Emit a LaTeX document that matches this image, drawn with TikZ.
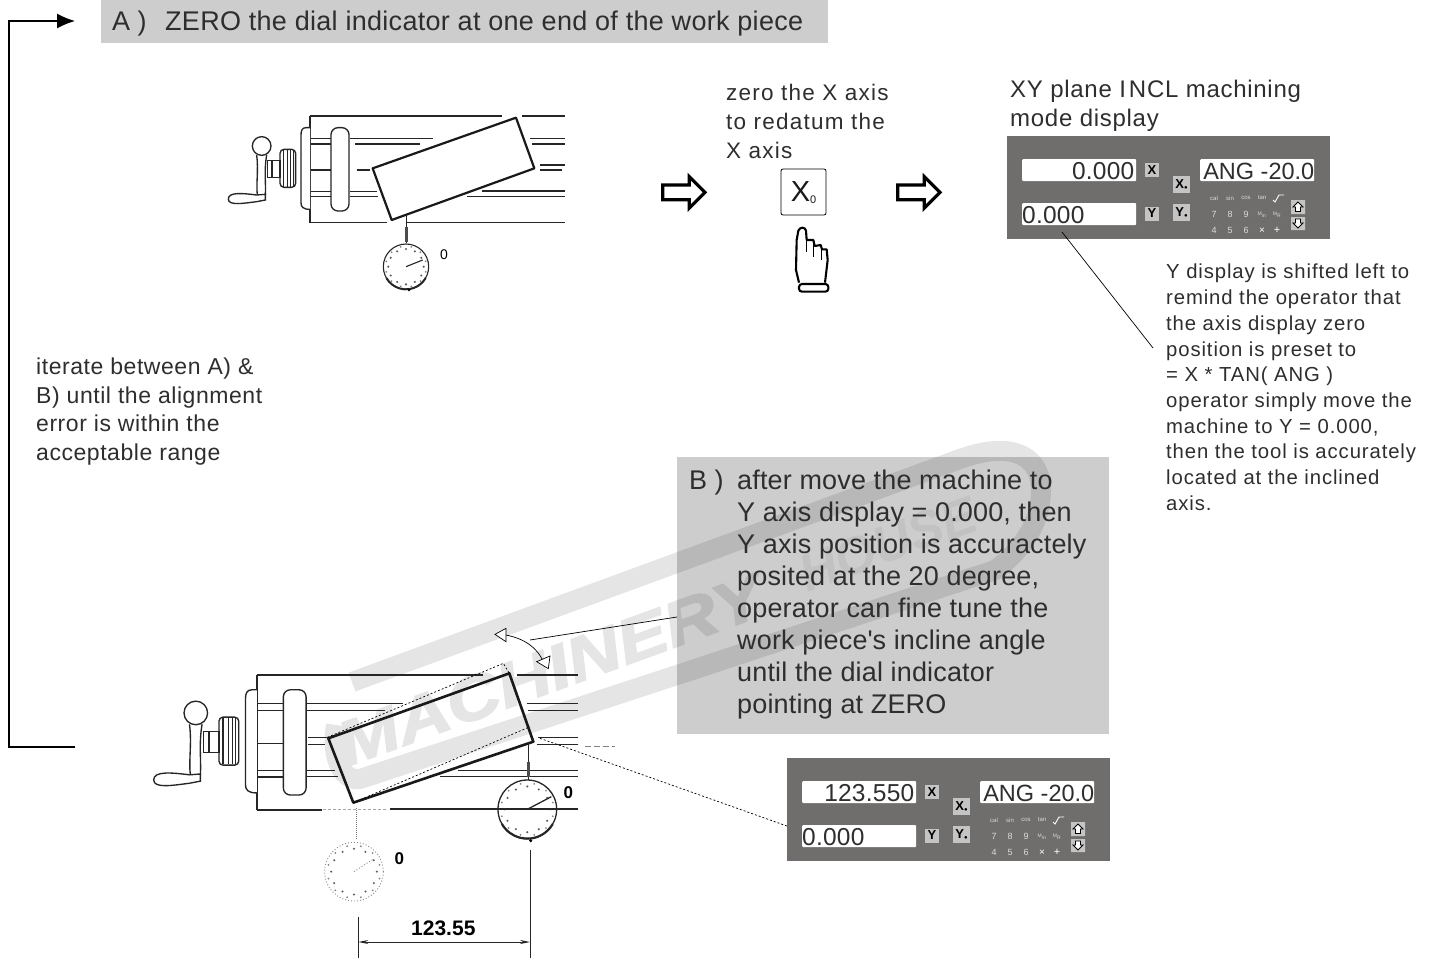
\documentclass[tikz,border=0pt]{standalone}
\usepackage{fontspec}
\setmainfont{Liberation Sans}
\newfontfamily\plainf{Liberation Sans}
\usetikzlibrary{arrows.meta}
\definecolor{panelgray}{HTML}{6F6E6C}
\definecolor{boxgray}{HTML}{CDCDCD}
\definecolor{keygray}{HTML}{C4C4C4}
\definecolor{ink}{HTML}{2E2E2E}
\newcommand{\fs}[2]{\fontsize{#1}{#2}\selectfont}
\newcommand{\ls}[1]{\addfontfeature{LetterSpace=#1}}
\tikzset{
  ln/.style={line width=1.35pt,black!85},
  thick ln/.style={line width=2.2pt,black!90},
  txt/.style={inner sep=0pt,anchor=north west,align=left,text=ink},
  dispbox/.style={fill=white,rounded corners=1pt,inner sep=0pt},
  keybox/.style={fill=keygray,inner sep=0pt},
  small lab/.style={inner sep=0pt,text=white!75!panelgray},
  dim/.style={line width=.9pt,black!85},
  leader/.style={line width=.7pt,black},
  dotted leader/.style={line width=.7pt,black,dash pattern=on 2pt off 2pt},
  openhead/.style={line width=.7pt,black,fill=white},
}
% common left part of the lathe, in the coordinates of the upper drawing
\newcommand{\latheleft}{%
  \draw[ln] (330,78)--(330,398);
  \foreach \yy in {145,162,240,305,320}{\draw[ln] (330,\yy)--(393,\yy);}
  \draw[ln,fill=white] (330,113)--(318,113) .. controls (306,113) and (303,122) .. (303,135)--(303,338) .. controls (303,350) and (308,358) .. (330,358);
  \draw[ln,fill=white,rounded corners=7pt] (393,113) rectangle (447,363);
  \draw[ln,rounded corners=4pt] (240,178) rectangle (287,292);
  \foreach \xx in {250,262,272,280}{\draw[ln] (\xx,180)--(\xx,290);}
  \draw[ln] (203,212) rectangle (240,262);
  \draw[ln] (216,212)--(216,262);
  \draw[ln,fill=white] (185,168) circle[radius=28];
  \draw[ln] (170,195) .. controls (176,240) and (168,280) .. (172,315);
  \draw[ln] (200,195) .. controls (192,240) and (198,280) .. (196,315);
  \draw[ln,fill=white] (170,315) .. controls (130,310) and (85,305) .. (85,327) .. controls (85,348) and (130,340) .. (170,335) -- (196,330) -- (196,313) -- cycle;
}
% dial indicator
\newcommand{\dial}[6]{% x,y,r,style,needle end x,y
  \begin{scope}[shift={(#1,#2)}]
    \draw[#4] (0,0) circle[radius=#3];
    \foreach \a in {0,30,...,330}{\fill[#4,draw=none,fill=black!80,fill opacity=.8] (\a:#3*0.78) circle[radius=3.5];}
    \foreach \a in {15,45,...,345}{\fill[#4,draw=none,fill=black!80,fill opacity=.6] (\a:#3*0.9) circle[radius=3];}
    \draw[#4] (0,0)--(#5,#6);
  \end{scope}}
% display panel
\newcommand{\panel}[4]{% prefix, x value, shift x, shift y
  \begin{scope}[shift={(#3,#4)}]
    \fill[panelgray] (1007,136) rectangle (1330,239);
    \node[dispbox,minimum width=114pt,minimum height=22pt,anchor=north west] (#1dx) at (1022,159) {};
    \node[dispbox,minimum width=114pt,minimum height=22pt,anchor=north west] (#1dy) at (1022,203) {};
    \node[dispbox,minimum width=114pt,minimum height=22pt,anchor=north west] (#1da) at (1200,159) {};
    \node[inner sep=0pt,anchor=base east,text=ink,font=\fs{24.5}{26}\ls{1}] (#1vx) at (1134.5,179.5) {#2};
    \node[inner sep=0pt,anchor=base west,text=ink,font=\fs{24.5}{26}\ls{1}] (#1vy) at (1022,223) {0.000};
    \node[inner sep=0pt,anchor=base east,text=ink,font=\fs{23.5}{26}] (#1va) at (1314.5,179.5) {ANG -20.0};
    \node[keybox,minimum width=14pt,minimum height=14pt,font=\bfseries\fs{13}{14}] (#1kx) at (1152,170) {X};
    \node[keybox,minimum width=14pt,minimum height=14pt,font=\bfseries\fs{13}{14}] (#1ky) at (1152,213.5) {Y};
    \node[keybox,minimum width=17pt,minimum height=17pt,font=\bfseries\fs{13}{14}] (#1kxo) at (1181.5,184.5) {X\fs{6}{6}\raisebox{-.3pt}{●}};
    \node[keybox,minimum width=17pt,minimum height=17pt,font=\bfseries\fs{13}{14}] (#1kyo) at (1181.5,212.5) {Y\fs{6}{6}\raisebox{-.3pt}{●}};
    \foreach \t/\x in {cal/1214,sin/1230,cos/1246,tan/1262}{\node[small lab,font=\fs{6}{7}] (#1s\t) at (\x,198) {\t};}
    \draw[white,line width=.9pt] (1273,200)--(1275,202)--(1279,195)--(1284,195);
    \foreach \t/\x in {7/1214,8/1230,9/1246}{\node[small lab,font=\fs{9}{10}] (#1n\t) at (\x,214.5) {\t};}
    \foreach \t/\x in {4/1214,5/1230,6/1246}{\node[small lab,font=\fs{9}{10}] (#1n\t) at (\x,230.5) {\t};}
    \node[small lab,font=\fs{5}{6}] (#1mm) at (1262,214.5) {M\textsubscript{in}};
    \node[small lab,font=\fs{5}{6}] (#1mn) at (1277,214.5) {M\textsubscript{R}};
    \node[small lab,text=white,font=\fs{10}{10}] (#1tm) at (1262,230.5) {×};
    \node[small lab,text=white,font=\fs{11}{11}] (#1pl) at (1277,230.5) {+};
    \fill[keygray] (1291,200) rectangle (1305,214) (1291,217) rectangle (1305,230);
    \draw[black,line width=.8pt,fill=white] (1298,202)--(1303,207)--(1300.5,207)--(1300.5,211.5)--(1295.5,211.5)--(1295.5,207)--(1293,207)--cycle;
    \draw[black,line width=.8pt,fill=white] (1298,228)--(1303,223)--(1300.5,223)--(1300.5,219)--(1295.5,219)--(1295.5,223)--(1293,223)--cycle;
  \end{scope}}
\begin{document}
\begin{tikzpicture}[x=1pt,y=-1pt]
\useasboundingbox (0,0) rectangle (1434,958);
\fill[white] (0,0) rectangle (1434,958);
% grey boxes
\fill[boxgray] (101,0) rectangle (828,43);
\fill[boxgray] (677,457) rectangle (1109,734);
% watermark
\begin{scope}[transparency group,opacity=.1]
  \draw[line width=20pt,black] (352,682)--(960,459) .. controls (1010,441) and (1035,455) .. (1040,480) .. controls (1045,510) and (1030,545) .. (995,570)--(677,675)--(363,778) .. controls (345,785) and (330,760) .. (336,725);
  \node[rotate=20,inner sep=0pt,font=\bfseries\itshape\fs{62}{66}\addfontfeature{FakeBold=2.5}] (wm1) at (550,670) {\scalebox{1.2}[1]{MACHINERY}};
  \node[rotate=20,inner sep=0pt,font=\bfseries\itshape\fs{52}{56},opacity=.5] (wm2) at (888,544) {HOUSE};
\end{scope}
% feedback connector
\coordinate (fbstart) at (75,747);
\coordinate (fbcorner1) at (9,747);
\coordinate (fbcorner2) at (9,21);
\coordinate (fbend) at (75,21);
\draw[line width=1.3pt,-{Latex[length=18pt,width=15pt]}] (fbstart)--(fbcorner1)--(fbcorner2)--(fbend);
% texts
\node[txt,font=\fs{27}{32},anchor=base west] (aa) at (112,31) {A )};
\node[txt,font=\fs{27}{32}\ls{1.1},anchor=base west] (at) at (165,31) {ZERO the dial indicator at one end of the work piece};
\node[txt,font=\fs{22.5}{29}\ls{5.5}] (zt) at (726,83.5) {zero the X axis\\to redatum the\\X axis};
\node[txt,font=\fs{24}{29}\ls{3}] (xy) at (1010,80) {XY plane I\hspace{3pt}NCL machining\\mode display};
\node[txt,font=\fs{20.3}{25.7}\ls{4.4}] (yt) at (1166,264) {Y display is shifted left to\\remind the operator that\\the axis display zero\\position is preset to\\= X * TAN( ANG )\\operator simply move the\\machine to Y = 0.000,\\then the tool is accurately\\located at the inclined\\axis.};
\node[txt,font=\fs{23}{28.5}\ls{2.4}] (lt) at (36,358) {iterate between A) \&\\B) until the alignment\\error is within the\\acceptable range};
\node[txt,font=\fs{27}{32}] (bb) at (689,470) {B )};
\node[txt,font=\fs{27}{32}\ls{.6}] (bt) at (737,470) {after move the machine to\\Y axis display = 0.000, then\\Y axis position is accuractely\\posited at the 20 degree,\\operator can fine tune the\\work piece{\plainf\fs{27}{32}'}s incline angle\\until the dial indicator\\pointing at ZERO};
% upper lathe
\begin{scope}[shift={(200,90)},scale=1/3]
  \latheleft
  \draw[ln] (330,78)--(905,78) (965,78)--(1095,78);
  \draw[ln] (330,398)--(560,398) (620,398)--(1095,398);
  \draw[ln] (450,145)--(700,145) (990,145)--(1095,145);
  \draw[ln] (465,162)--(660,162) (995,162)--(1095,162);
  \draw[ln] (470,240)--(510,240) (1020,225)--(1095,225) (1020,240)--(1085,240);
  \draw[ln] (450,305)--(530,305) (845,303)--(1095,303);
  \draw[ln] (450,320)--(535,320) (800,320)--(1095,320);
  \draw[thick ln,join=round] (518,235)--(948,83)--(1003,235)--(575,390)--cycle;
  \draw[ln] (620,375)--(620,460);
  \draw[line width=2.4pt,black!70] (620,410)--(620,455);
  \dial{618}{530}{68}{line width=1.1pt,black!85}{50}{-20}
  \draw[line width=2pt,black!85] (618,530)++(150:68) arc[start angle=150,end angle=30,radius=68];
  \fill[black] (627,600) circle[radius=4];
  \node[inner sep=0pt,font=\fs{14}{15}] (z1) at (732,495) {0};
\end{scope}
% middle: button and hand
\begin{scope}[shift={(650,160)},scale=1/3]
  \foreach \dx in {0,705}{
    \draw[line width=3.2pt,fill=white,miter limit=8,xshift=\dx] (38,75)--(118,75)--(118,50)--(165,97)--(118,144)--(118,119)--(38,119)--cycle;
  }
  \draw[line width=2.1pt,join=round,fill=white] (447,368)--(438,330)--(440,240)--(445,212) .. controls (450,200) and (465,200) .. (468,212)--(470,240)--(490,240)--(494,258)--(512,255)--(516,268)--(530,268)--(533,300)--(525,368);
  \draw[line width=1.5pt] (469,240)--(469,275) (490,245)--(490,290) (514,262)--(514,300);
  \draw[line width=2.1pt,rounded corners=3pt,fill=white] (447,372) rectangle (535,395);
\end{scope}
\node[draw=black,line width=.8pt,rounded corners=2pt,minimum width=45pt,minimum height=46pt,inner sep=0pt] (xkey) at (803.5,192) {};
\node[inner sep=0pt,text=black!90,font=\fs{29}{30}] (xlab) at (803.5,192.5) {X\raisebox{-1.5pt}{\fs{11}{11}0}};
% displays
\panel{t}{0.000}{0}{0}
\panel{b}{123.550}{-220}{622}
\coordinate (ylead) at (1153,348);
\draw[leader] (1062,232)--(ylead);
% lower lathe
\begin{scope}[shift={(117.9,642.2)},scale=.421]
  \latheleft
\end{scope}
\begin{scope}[shift={(140,620)},scale=1/3]
  \draw[ln] (350,165)--(1030,165) (1130,165)--(1315,165);
  \draw[ln] (350,570)--(545,570) (750,567)--(1315,567);
  \draw[line width=.8pt,black!35,dash pattern=on 3pt off 2pt] (550,567)--(745,567);
  \draw[ln] (500,250)--(790,250) (1160,250)--(1315,250);
  \draw[ln] (500,272)--(735,272) (1165,272)--(1315,272);
  \draw[ln] (505,352)--(562,352) (1195,352)--(1315,352);
  \draw[ln] (505,374)--(555,374) (1190,374)--(1315,374);
  \draw[black!50,line width=.8pt,dash pattern=on 6pt off 3pt] (1335,380)--(1425,380);
  \draw[ln] (500,452)--(585,452) (955,452)--(1315,452);
  \draw[ln] (500,470)--(595,470) (900,470)--(1315,470);
  \draw[line width=2.6pt,black!90,join=round] (565,355)--(1108,160)--(1180,365)--(640,548)--cycle;
  \draw[dotted leader] (562,352)--(1090,130)--(1108,160);
  \draw[dotted leader] (640,548)--(1170,320);
  % solid dial
  \draw[ln] (1165,365)--(1165,480);
  \draw[line width=2.6pt,black!70] (1165,425)--(1165,470);
  \dial{1162}{568}{88}{line width=1.3pt,black!85}{72}{-38}
  \draw[line width=2.2pt,black!85] (1162,568)++(150:88) arc[start angle=150,end angle=30,radius=88];
  \fill[black] (1172,662) circle[radius=5];
  \node[inner sep=0pt,font=\bfseries\fs{17}{18}] (z2) at (1285,517) {0};
  % ghost dial
  \draw[black!55,line width=1.6pt,dash pattern=on 1pt off 1pt] (650,565)--(650,660);
  \dial{642}{755}{88}{line width=.9pt,black!45,dash pattern=on 1pt off 2pt}{58}{-38}
  \node[inner sep=0pt,font=\bfseries\fs{17}{18}] (z3) at (778,715) {0};
  % dimension
  \coordinate (da) at (655,966);
  \coordinate (db) at (1170,966);
  \draw[dim] (655,890)--(655,1014);
  \draw[dim] (1170,690)--(1170,1014);
  \draw[dim,{Stealth[length=10pt,width=4pt]}-{Stealth[length=10pt,width=4pt]}] (da)--(db);
  \node[inner sep=0pt,font=\bfseries\fs{21}{22}] (dimlab) at (910,924) {123.55};
  % curved arrow
  \coordinate (ca) at (1097,45);
  \coordinate (cb) at (1210,125);
  \draw[leader] (ca) .. controls (1150,55) and (1190,80) .. (cb);
  \draw[openhead] (1065,43)--(1098,25)--(1098,65)--cycle;
  \draw[openhead] (1225,146)--(1190,125)--(1230,108)--cycle;
  \coordinate (cl) at (1170,60);
  \coordinate (dl) at (1200,355);
\end{scope}
\draw[leader] (cl)--(677,617);
\draw[dotted leader] (dl)--(787,826);
\end{tikzpicture}
\end{document}
